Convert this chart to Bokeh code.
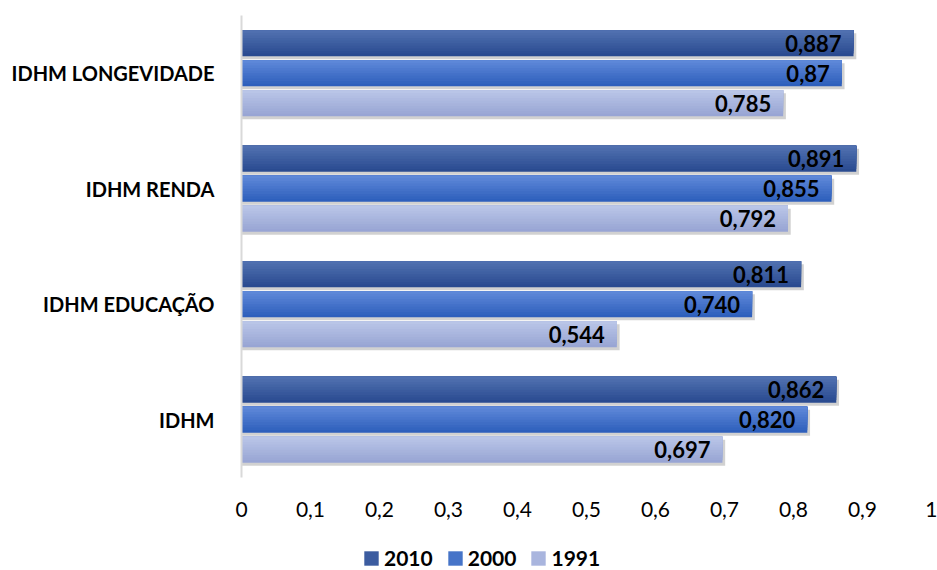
from bokeh.plotting import figure
from bokeh.layouts import column
from bokeh.models import ColumnDataSource, FactorRange, Legend, LegendItem, FixedTicker
from bokeh.transform import dodge
from bokeh.core.properties import value
from bokeh.embed import file_html
from bokeh.resources import INLINE

# ---- data ----
categories = ["IDHM", "IDHM EDUCAÇÃO", "IDHM RENDA", "IDHM LONGEVIDADE"]
series_names = ["2010", "2000", "1991"]
values_2010 = [0.862, 0.811, 0.891, 0.887]
values_2000 = [0.820, 0.740, 0.855, 0.870]
values_1991 = [0.697, 0.544, 0.792, 0.785]
labels_2010 = ["0,862", "0,811", "0,891", "0,887"]
labels_2000 = ["0,820", "0,740", "0,855", "0,87"]
labels_1991 = ["0,697", "0,544", "0,792", "0,785"]
x_ticks = [0, 0.1, 0.2, 0.3, 0.4, 0.5, 0.6, 0.7, 0.8, 0.9, 1]
x_tick_labels = ["0", "0,1", "0,2", "0,3", "0,4", "0,5", "0,6", "0,7", "0,8", "0,9", "1"]

FONT = "Lato"
BAR_H = 0.225
GAP = 0.26
N_STRIPS = 10

src = ColumnDataSource(dict(
    cat=categories,
    v2010=values_2010, v2000=values_2000, v1991=values_1991,
    l2010=labels_2010, l2000=labels_2000, l1991=labels_1991,
    s2010=[v + 0.004 for v in values_2010],
    s2000=[v + 0.004 for v in values_2000],
    s1991=[v + 0.004 for v in values_1991],
))

p = figure(y_range=FactorRange(*categories, range_padding=0), x_range=(0, 1),
           frame_width=690, frame_height=462, output_backend="svg", toolbar_location=None,
           min_border_left=241, min_border_right=6, min_border_top=15, min_border_bottom=48)
p.outline_line_color = None
p.grid.visible = False
p.background_fill_color = "white"
p.border_fill_color = "white"


def hex2rgb(h):
    h = h.lstrip("#")
    return tuple(int(h[i:i + 2], 16) for i in (0, 2, 4))


def interp(c1, c2, t):
    a, b = hex2rgb(c1), hex2rgb(c2)
    return "#%02x%02x%02x" % tuple(round(a[i] + (b[i] - a[i]) * t) for i in range(3))


specs = [
    ("2010", "v2010", "l2010", "s2010", GAP, "#5070b0", "#2a4b90"),
    ("2000", "v2000", "l2000", "s2000", 0.0, "#5e88d8", "#2e5fbc"),
    ("1991", "v1991", "l1991", "s1991", -GAP, "#b9c5e7", "#98a5d4"),
]

for name, key, lab, sh, off, ctop, cbot in specs:
    # shadow
    p.hbar(y=dodge("cat", off - 0.026, range=p.y_range), right=sh, left=0.0, height=BAR_H,
           source=src, fill_color="#000000", fill_alpha=0.18, line_color=None)
    # gradient (nested bars sharing the top edge)
    for k in range(N_STRIPS):
        frac = (N_STRIPS - k) / N_STRIPS
        h = BAR_H * frac
        c = off + BAR_H / 2 - h / 2
        col = interp(cbot, ctop, k / (N_STRIPS - 1))
        p.hbar(y=dodge("cat", c, range=p.y_range), right=key, left=0.0, height=h,
               source=src, fill_color=col, line_color=None)
    p.text(x=key, y=dodge("cat", off, range=p.y_range), text=lab, source=src,
           x_offset=-12, text_align="right", text_baseline="middle",
           text_font=value(FONT), text_font_style="bold", text_font_size="22px",
           text_color="black")

# axes
p.xaxis.ticker = FixedTicker(ticks=x_ticks)
p.xaxis.major_label_overrides = {t: l for t, l in zip(x_ticks, x_tick_labels)}
p.xaxis.axis_line_color = None
p.xaxis.major_tick_line_color = None
p.xaxis.minor_tick_line_color = None
p.xaxis.major_label_text_font = FONT
p.xaxis.major_label_text_font_size = "21px"
p.xaxis.major_label_text_color = "black"
p.xaxis.major_label_standoff = 18

p.yaxis.axis_line_color = "#d9d9d9"
p.yaxis.axis_line_width = 2
p.yaxis.major_tick_line_color = None
p.yaxis.minor_tick_line_color = None
p.yaxis.major_label_text_font = FONT
p.yaxis.major_label_text_font_style = "bold"
p.yaxis.major_label_text_font_size = "20px"
p.yaxis.major_label_text_color = "black"
p.yaxis.major_label_standoff = 21

# ---- legend strip (separate small figure, frame aligned with the chart) ----
lg = figure(width=937, height=45, x_range=(0, 1), y_range=(0, 1), output_backend="svg",
            toolbar_location=None, x_axis_type=None, y_axis_type=None,
            min_border=0)
lg.outline_line_color = None
lg.grid.visible = False
lg.border_fill_color = "white"

legend_colors = ["#3c5ca0", "#4674c8", "#a9b5de"]
items = []
for name, col in zip(series_names, legend_colors):
    # zero-size swatch renderer: only its legend entry is visible
    r = lg.hbar(y=[0.5], left=[0.0], right=[0.0], height=0.0, fill_color=col, line_color=None)
    items.append(LegendItem(label=name, renderers=[r]))

legend = Legend(items=items, orientation="horizontal", location=(121, 0),
                label_text_font=FONT, label_text_font_style="bold", label_text_font_size="21px",
                label_text_color="black", glyph_width=18, glyph_height=18, spacing=13,
                label_standoff=4, border_line_color=None, background_fill_alpha=0,
                margin=0, padding=0)
lg.add_layout(legend, "center")

layout = column(p, lg, spacing=0)
open("out.html", "w").write(file_html(layout, INLINE))
